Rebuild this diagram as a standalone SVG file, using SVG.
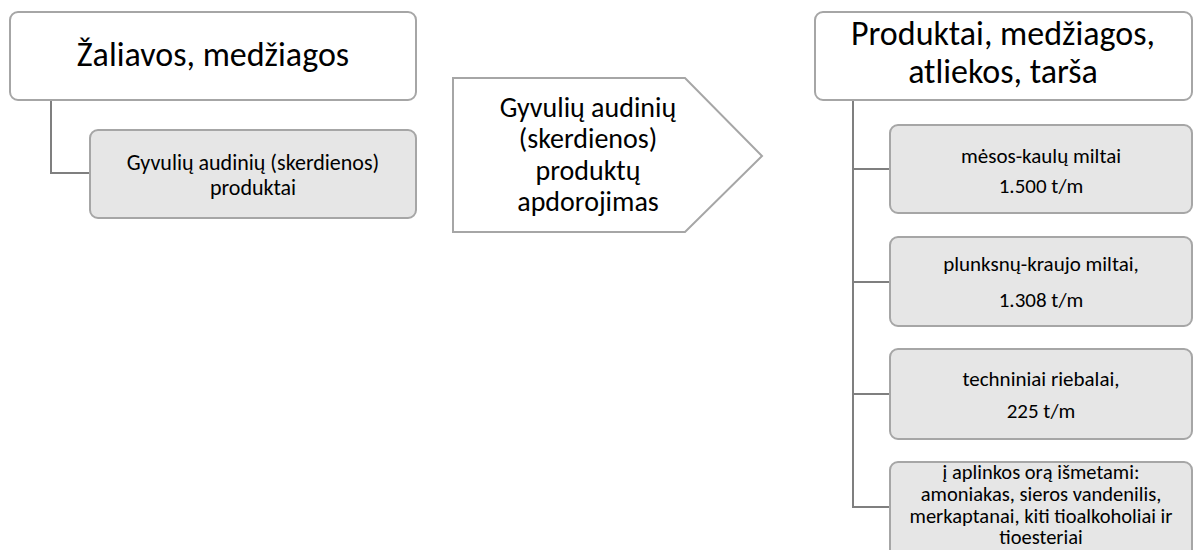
<svg xmlns="http://www.w3.org/2000/svg" width="1200" height="550" viewBox="0 0 1200 550">
<style>
  .hdr { fill: #ffffff; stroke: #a6a6a6; stroke-width: 2; }
  .sub { fill: #e6e6e6; stroke: #a6a6a6; stroke-width: 2; }
  .conn { fill: none; stroke: #7f7f7f; stroke-width: 2; }
  text { font-family: Carlito, Lato, "Liberation Sans", sans-serif; fill: #000000; text-anchor: middle; }
  .big { font-size: 34px; }
  .mid { font-size: 28px; }
  .sm { font-size: 21px; }
  .sm2 { font-size: 22px; }
  .sm3 { font-size: 20.5px; }
</style>
<rect width="1200" height="550" fill="#ffffff"/>
<g id="connectors">
  <path class="conn" d="M51,100 V173 H90"/>
  <path class="conn" d="M853,100 V507 H890 M853,169 H890 M853,282 H890 M853,394 H890"/>
</g>
<g id="n-zaliavos">
  <rect class="hdr" x="10" y="12" width="406" height="88" rx="8"/>
  <text class="big" x="213" y="66">Žaliavos, medžiagos</text>
</g>
<g id="n-gyvuliu">
  <rect class="sub" x="90" y="130" width="326" height="88" rx="8"/>
  <text class="sm2" x="253" y="170">Gyvulių audinių (skerdienos)</text>
  <text class="sm2" x="253" y="195">produktai</text>
</g>
<g id="n-apdorojimas">
  <polygon points="453,78 685,78 762,156 685,232 453,232" fill="#ffffff" stroke="#a6a6a6" stroke-width="2"/>
  <text class="mid" x="588" y="117">Gyvulių audinių</text>
  <text class="mid" x="588" y="148">(skerdienos)</text>
  <text class="mid" x="588" y="180">produktų</text>
  <text class="mid" x="588" y="211">apdorojimas</text>
</g>
<g id="n-produktai">
  <rect class="hdr" x="815" y="12" width="377" height="88" rx="8"/>
  <text class="big" x="1003" y="45">Produktai, medžiagos,</text>
  <text class="big" x="1003" y="83">atliekos, tarša</text>
</g>
<g id="n-mesos">
  <rect class="sub" x="890" y="125" width="302" height="88" rx="8"/>
  <text class="sm" x="1041" y="163">mėsos-kaulų miltai</text>
  <text class="sm" x="1041" y="193">1.500 t/m</text>
</g>
<g id="n-plunksnu">
  <rect class="sub" x="890" y="237" width="302" height="89" rx="8"/>
  <text class="sm" x="1041" y="271">plunksnų-kraujo miltai,</text>
  <text class="sm" x="1041" y="307">1.308 t/m</text>
</g>
<g id="n-riebalai">
  <rect class="sub" x="890" y="349" width="302" height="90" rx="8"/>
  <text class="sm" x="1041" y="386">techniniai riebalai,</text>
  <text class="sm" x="1041" y="418">225 t/m</text>
</g>
<g id="n-orai">
  <rect class="sub" x="890" y="462" width="302" height="96" rx="8"/>
  <text class="sm3" x="1041" y="479">į aplinkos orą išmetami:</text>
  <text class="sm3" x="1041" y="501">amoniakas, sieros vandenilis,</text>
  <text class="sm3" x="1041" y="523">merkaptanai, kiti tioalkoholiai ir</text>
  <text class="sm3" x="1041" y="544">tioesteriai</text>
</g>
</svg>
